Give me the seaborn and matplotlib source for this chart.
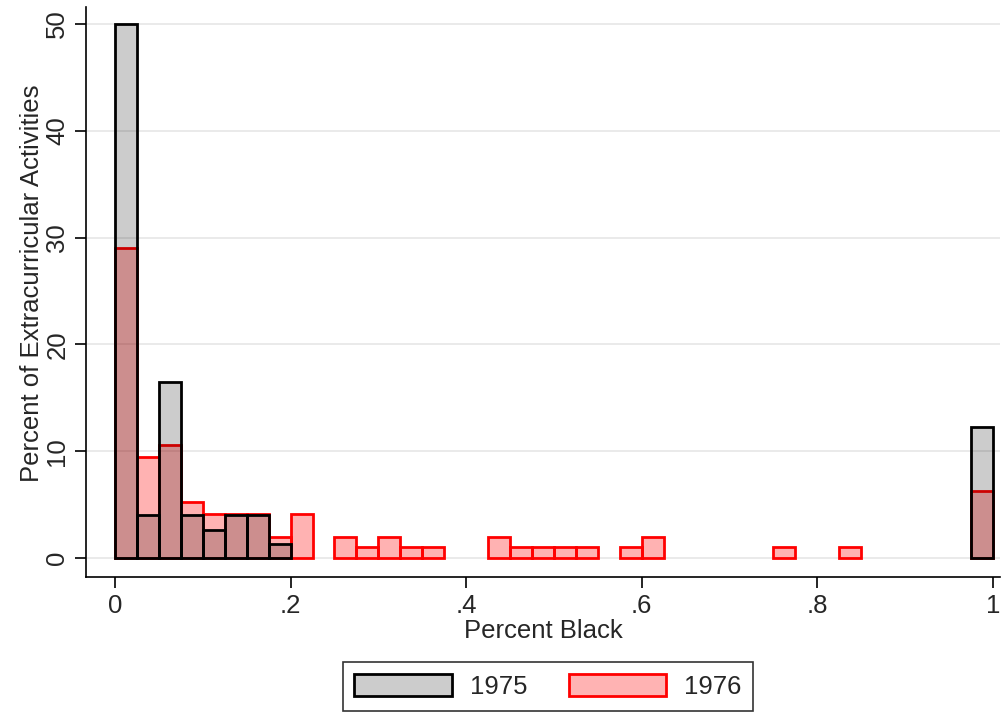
import numpy as np
import pandas as pd
import matplotlib
matplotlib.use("Agg")
import matplotlib.pyplot as plt
import seaborn as sns
from matplotlib.patches import Patch

# bin width 0.025, left edges given by bin index
bin_width = 0.025
bins_1975 = [0, 1, 2, 3, 4, 5, 6, 7, 39]
pct_1975 = [50.0, 4.0, 16.5, 4.0, 2.6, 4.0, 4.0, 1.3, 12.3]

bins_1976 = [0, 1, 2, 3, 4, 5, 6, 7, 8, 10, 11, 12, 13, 14,
             17, 18, 19, 20, 21, 23, 24, 30, 33, 39]
pct_1976 = [29.0, 9.5, 10.6, 5.2, 4.1, 4.1, 4.1, 2.0, 4.1, 2.0, 1.0, 2.0, 1.0, 1.0,
            2.0, 1.0, 1.0, 1.0, 1.0, 1.0, 2.0, 1.0, 1.0, 6.3]

x_ticks = [0, 0.2, 0.4, 0.6, 0.8, 1.0]
x_tick_labels = ["0", ".2", ".4", ".6", ".8", "1"]
y_ticks = [0, 10, 20, 30, 40, 50]

sns.set_style("white")
plt.rcParams['font.family'] = ['Liberation Sans', 'DejaVu Sans']
FS = 18.5

fig = plt.figure(figsize=(10.03, 7.12), dpi=100)
ax = fig.add_axes([86 / 1003, 1 - 577 / 712, 914 / 1003, 570 / 712])

edges = np.arange(0, 1 + bin_width / 2, bin_width).tolist()
df75 = pd.DataFrame({"x": [(b + 0.5) * bin_width for b in bins_1975], "w": pct_1975})
df76 = pd.DataFrame({"x": [(b + 0.5) * bin_width for b in bins_1976], "w": pct_1976})


def draw(df, face, edge):
    n_before = len(ax.patches)
    sns.histplot(data=df, x="x", weights="w", bins=edges, ax=ax)
    for p in ax.patches[n_before:]:
        p.set_alpha(None)
        p.set_facecolor(face)
        p.set_edgecolor(edge)
        p.set_linewidth(2)
        # empty bins drawn with zero height: hide them
        if p.get_height() == 0:
            p.set_visible(False)


draw(df76, (1, 0, 0, 0.3), "red")
draw(df75, (0, 0, 0, 0.2), "black")

ax.set_xlim(-0.033, 1.008)
ax.set_ylim(-1.78, 51.6)
ax.set_xticks(x_ticks)
ax.set_xticklabels(x_tick_labels)
ax.set_yticks(y_ticks)
ax.set_yticklabels([str(v) for v in y_ticks], rotation=90, va="center")
ax.tick_params(axis="both", labelsize=FS, length=8, width=1.2, direction="out",
               left=True, bottom=True, color="black", pad=4)
ax.yaxis.grid(True, color="#e6e6e6", linewidth=1.2)
ax.set_axisbelow(True)
for side in ["top", "right"]:
    ax.spines[side].set_visible(False)
for side in ["left", "bottom"]:
    ax.spines[side].set_color("black")
    ax.spines[side].set_linewidth(1.2)

ax.set_xlabel("Percent Black", fontsize=FS, labelpad=1)
ax.set_ylabel("Percent of Extracurricular Activities", fontsize=FS)
ax.yaxis.set_label_coords(-0.046, 0.515)

handles = [Patch(facecolor="#cccccc", edgecolor="black", linewidth=2, label="1975"),
           Patch(facecolor="#ffb3b3", edgecolor="red", linewidth=2, label="1976")]
leg = fig.legend(handles=handles, loc="lower center", bbox_to_anchor=(548 / 1003, -0.016),
                 ncol=2, fontsize=FS, frameon=True, fancybox=False,
                 handlelength=3.8, handleheight=0.97, handletextpad=0.7,
                 columnspacing=1.6, borderpad=0.45, borderaxespad=0.5,
                 edgecolor="black")
leg.get_frame().set_linewidth(1.2)

fig.savefig("out.png", dpi=100)
